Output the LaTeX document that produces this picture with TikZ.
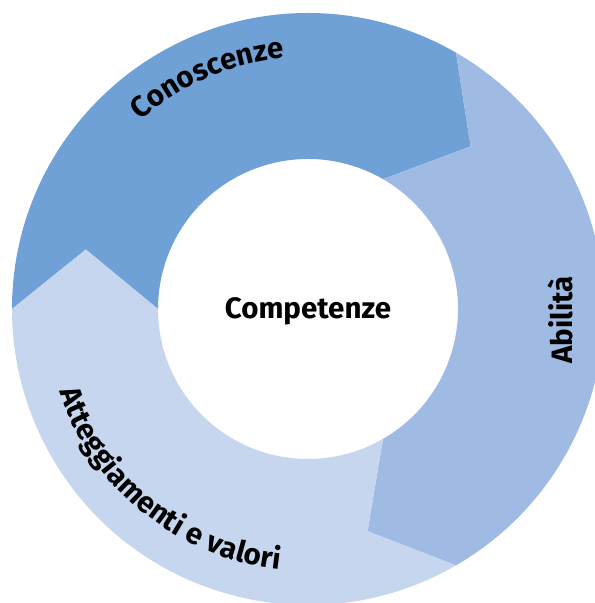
\documentclass[tikz,border=0pt]{standalone}
\usepackage{fontspec}
\setmainfont{Fira Sans}
\usetikzlibrary{decorations.text}
\definecolor{conoscenzeblue}{RGB}{111,161,214}
\definecolor{abilitablue}{RGB}{159,187,227}
\definecolor{atteggblue}{RGB}{197,214,238}
\newcommand{\labelfont}{\bfseries\fontsize{29.5bp}{34bp}\selectfont}

\begin{document}
\begin{tikzpicture}[x=1bp, y=1bp,
        every node/.style={font=\labelfont},
        curvedlabel/.style={decorate, decoration={text along path, text align=center, text={|\labelfont|#1}}}]
            \clip (-308,-294) rectangle (287,309);
            \fill[white] (-308,-294) rectangle (287,309);

            % three arrows of the ring, clockwise
            \fill[conoscenzeblue] (180:296) arc[start angle=180, end angle=60, radius=296] -- (45:230)
                -- (60:150) arc[start angle=60, end angle=180, radius=150] -- (165:230) -- cycle;
            \fill[abilitablue] (60:296) arc[start angle=60, end angle=-60, radius=296] -- (-75:230)
                -- (-60:150) arc[start angle=-60, end angle=60, radius=150] -- (45:230) -- cycle;
            \fill[atteggblue] (-60:296) arc[start angle=-60, end angle=-180, radius=296] -- (-195:230)
                -- (-180:150) arc[start angle=-180, end angle=-60, radius=150] -- (-75:230) -- cycle;

            \node[anchor=base] (comp) at (0,-10) {Competenze};
            \node[rotate=90] (abil) at (252,-11) {Abilità};
            \path[curvedlabel=Conoscenze] (150:252) arc[start angle=150, end angle=77, radius=252];
            \path[curvedlabel=Atteggiamenti e valori] (189:262) arc[start angle=189, end angle=273, radius=262];
        \end{tikzpicture}
\end{document}
